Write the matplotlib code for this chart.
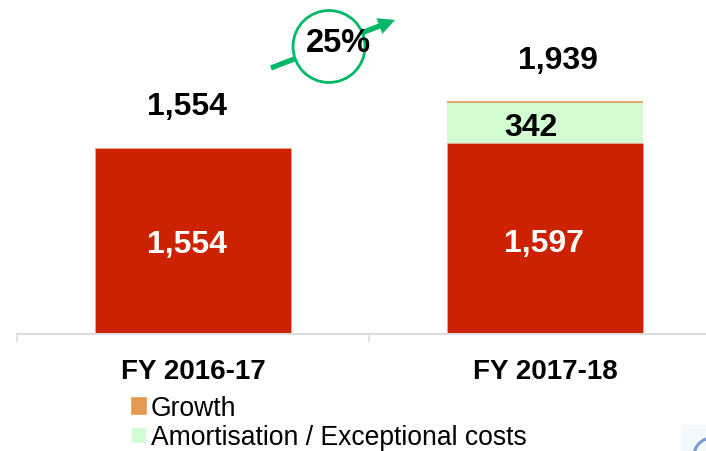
import numpy as np
import matplotlib
matplotlib.use("Agg")
import matplotlib.pyplot as plt
from matplotlib.patches import Circle, FancyArrowPatch, Rectangle, Arc

plt.rcParams['font.family'] = ['Liberation Sans', 'DejaVu Sans']

# values
categories = ["FY 2016-17", "FY 2017-18"]
base = [1554, 1597]
amortisation = [0, 342]
growth = [0, 0]
totals = [1554, 1939]
growth_label = "25%"

W, H = 706, 451
fig = plt.figure(figsize=(W / 100, H / 100), dpi=100)

# axes run past the right edge of the figure, as in the original crop
left, right, bottom, top = 17, 721, 334, 4
ax = fig.add_axes([left / W, 1 - bottom / H, (right - left) / W, (bottom - top) / H])
ax.set_xlim(-0.5, 1.5)
ax.set_ylim(0, (bottom - top) / 0.1195)

x = np.arange(len(categories))
bar_w = 0.558
ax.bar(x, base, bar_w, color="#CC2200", edgecolor="#EFA595", linewidth=0.6)
ax.bar(x[1], amortisation[1], bar_w, bottom=base[1], color="#D2FDD2", label="Amortisation / Exceptional costs")
tops = np.array(base) + np.array(amortisation)
ax.bar(x[1], growth[1], bar_w, bottom=tops[1], color="#E39A50", edgecolor="#E39A50",
       linewidth=1.2, label="Growth")


def label(xv, yv, txt, dx, dy, color):
    # dx, dy are pixel nudges from the anchor, labels were hand placed in the original
    ax.annotate(txt, (xv, yv), xytext=(dx * 0.72, dy * 0.72), textcoords="offset points",
                ha="center", va="center", color=color, fontsize=23, fontweight="bold")


label(x[0], base[0] * 0.49, f"{base[0]:,}", -6, -2, "white")
label(x[1], base[1] * 0.49, f"{base[1]:,}", -1, -4, "white")
label(x[0], tops[0], f"{totals[0]:,}", -6, 41, "black")
label(x[1], tops[1], f"{totals[1]:,}", 13, 41, "black")
label(x[1], base[1] + amortisation[1] / 2, str(amortisation[1]), -14, -5, "black")

for s in ["top", "left", "right"]:
    ax.spines[s].set_visible(False)
ax.spines["bottom"].set_color("#DDDDDD")
ax.spines["bottom"].set_linewidth(1.5)
ax.set_yticks([])
ax.set_xticks([-0.5, 0.5, 1.5])
ax.set_xticklabels([])
ax.tick_params(axis="x", length=6, width=1.2, color="#DDDDDD")
ax.set_xticks(x, minor=True)
ax.set_xticklabels(categories, minor=True, fontsize=20, fontweight="bold")
ax.tick_params(axis="x", which="minor", length=0, pad=18)

handles, labels = ax.get_legend_handles_labels()
fig.legend(handles[::-1], labels[::-1], loc="upper left", bbox_to_anchor=(132 / W, 1 - 395.5 / H),
           frameon=False, fontsize=19.1, labelspacing=0.13, handlelength=0.53, handleheight=0.53,
           handletextpad=0.19, borderpad=0, borderaxespad=0)

# overlay in pixel coordinates for the growth badge and the logo corner
ov = fig.add_axes([0, 0, 1, 1], zorder=5)
ov.set_xlim(0, W)
ov.set_ylim(H, 0)
ov.axis("off")
ov.patch.set_alpha(0)
ov.add_patch(FancyArrowPatch((271, 68), (395, 20),
                             arrowstyle="simple,head_length=12,head_width=12,tail_width=3.8",
                             mutation_scale=1, color="#00B865", linewidth=0, shrinkA=0, shrinkB=0))
ov.add_patch(Circle((329, 46.5), 36, facecolor="white", edgecolor="#00B865", linewidth=2))
ov.text(338, 43, growth_label, ha="center", va="center", fontsize=23.5, fontweight="bold", color="black")

ov.add_patch(Rectangle((681, 425), 25, 26, facecolor="#F3F9FD", edgecolor="none"))
ov.add_patch(Arc((712, 456), 36, 36, theta1=180, theta2=270, color="#7C9BDC", linewidth=2.2))

fig.savefig("out.png", dpi=100)
